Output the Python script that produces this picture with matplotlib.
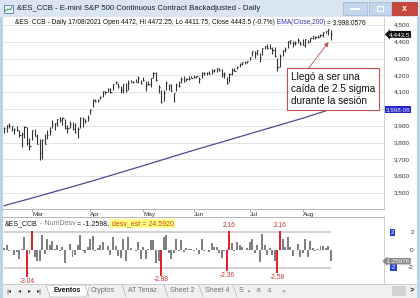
import numpy as np
import pandas as pd
import matplotlib
matplotlib.use('Agg')
import matplotlib.pyplot as plt
from matplotlib.patches import Rectangle, Polygon

plt.rcParams['font.family'] = ['Liberation Sans', 'DejaVu Sans']

# trading days shown (Feb 11 .. Aug 17 2021, market holidays removed)
holidays = ['2021-02-15', '2021-04-02', '2021-05-31', '2021-07-05']
dates = pd.bdate_range('2021-02-11', '2021-08-17').drop(pd.to_datetime(holidays))

# daily bars (backadjusted)
high = [3893, 3905, 3918, 3901, 3888, 3898, 3873, 3863, 3896, 3894, 3830,
        3876, 3878, 3854, 3824, 3823, 3853, 3875, 3890, 3932, 3916, 3942, 3953,
        3955, 3941, 3902, 3928, 3921, 3914, 3891, 3950, 3953, 3940, 3967,
        3997, 4059, 4062, 4059, 4075, 4105, 4107, 4124, 4127, 4150, 4168,
        4156, 4135, 4151, 4155, 4170, 4170, 4169, 4177, 4194, 4175,
        4191, 4168, 4168, 4183, 4219, 4217, 4143, 4115, 4112, 4164,
        4147, 4150, 4097, 4153, 4169, 4191, 4194, 4183, 4194, 4199,
        4203, 4199, 4188, 4220, 4218, 4222, 4223, 4235, 4235, 4241, 4244,
        4238, 4219, 4190, 4212, 4241, 4242, 4257, 4272, 4278, 4286, 4288,
        4312, 4346, 4347, 4352, 4331, 4363, 4377, 4384, 4384, 4367, 4367,
        4303, 4327, 4350, 4366, 4406, 4413, 4407, 4407, 4420, 4403,
        4417, 4419, 4413, 4425, 4435, 4434, 4440, 4444, 4456, 4463, 4475, 4472.25]
low = [3858, 3863, 3886, 3869, 3853, 3866, 3836, 3773, 3826, 3783, 3757,
       3814, 3839, 3790, 3695, 3702, 3790, 3824, 3848, 3888, 3875, 3896, 3925,
       3907, 3882, 3857, 3884, 3873, 3860, 3826, 3889, 3894, 3916, 3930,
       3968, 4010, 4044, 4040, 4058, 4071, 4090, 4100, 4096, 4115, 4147,
       4126, 4094, 4094, 4099, 4114, 4158, 4152, 4158, 4152, 4150,
       4168, 4109, 4141, 4129, 4182, 4169, 4093, 4037, 4049, 4111,
       4110, 4106, 4043, 4109, 4132, 4154, 4162, 4169, 4173, 4184,
       4184, 4184, 4154, 4184, 4202, 4201, 4205, 4206, 4219, 4220, 4224,
       4189, 4187, 4150, 4159, 4204, 4225, 4236, 4252, 4262, 4269, 4272,
       4291, 4317, 4306, 4321, 4280, 4321, 4356, 4355, 4354, 4324, 4312,
       4225, 4249, 4313, 4338, 4363, 4388, 4366, 4380, 4395, 4378,
       4379, 4368, 4393, 4397, 4418, 4417, 4422, 4431, 4430, 4449, 4442, 4411.75]
close = [3884, 3902, 3900, 3899, 3881, 3874, 3844, 3849, 3893, 3797, 3779,
         3873, 3842, 3791, 3740, 3813, 3793, 3847, 3870, 3911, 3915, 3940, 3934,
         3946, 3887, 3885, 3912, 3882, 3861, 3881, 3946, 3943, 3931, 3944,
         3995, 4053, 4049, 4055, 4073, 4104, 4103, 4117, 4100, 4146, 4161,
         4139, 4111, 4149, 4111, 4156, 4163, 4162, 4159, 4187, 4157,
         4173, 4145, 4148, 4182, 4214, 4170, 4133, 4044, 4094, 4155,
         4144, 4109, 4097, 4140, 4137, 4178, 4169, 4176, 4181, 4185,
         4188, 4194, 4178, 4216, 4212, 4213, 4206, 4225, 4233, 4241, 4232,
         4210, 4208, 4152, 4210, 4232, 4228, 4252, 4267, 4277, 4277, 4283,
         4311, 4343, 4335, 4349, 4311, 4361, 4376, 4360, 4365, 4351, 4318,
         4249, 4314, 4350, 4359, 4403, 4413, 4393, 4392, 4410, 4386,
         4382, 4418, 4397, 4424, 4432, 4427, 4431, 4442, 4455, 4463, 4474, 4443.5]

# EMA(Close,200) read at a few dates
ema_days = ['2021-02-11', '2021-03-01', '2021-04-01', '2021-05-03',
            '2021-06-01', '2021-07-01', '2021-08-02', '2021-08-17']
ema_vals = [3425, 3470, 3568, 3663, 3755, 3852, 3945, 3998.06]

# NumDesv histogram (daily move in standard deviations)
num_desv = [0.19, 0.58, -0.06, -0.03, -0.58, -0.23, -0.97, 0.16, 1.42, -3.04, -0.45,
            2.16, -0.74, -1.21, -1.21, 1.74, -0.48, 1.29, 0.55, 0.98, 0.10, 0.60, -0.14,
            0.29, -1.45, -0.05, 0.68, -0.76, -0.54, 0.52, 1.68, -0.08, -0.32, 0.37,
            1.27, 1.61, -0.11, 0.17, 0.52, 0.91, -0.03, 0.42, -0.52, 1.42, 0.48,
            -0.71, -0.93, 1.27, -1.27, 1.50, 0.24, -0.03, -0.10, 0.95, -1.02,
            0.38, -0.97, 0.10, 1.17, 1.07, -1.50, -1.23, -2.88, 1.43, 1.69,
            -0.30, -0.97, -0.33, 1.19, -0.08, 1.14, -0.25, 0.22, 0.14, 0.08,
            -0.06, 0.18, -0.50, 1.19, -0.13, 0.03, -0.25, 0.74, 0.30, 0.31, -0.35,
            -0.88, -0.08, -2.36, 2.16, 0.81, -0.15, 0.89, 0.52, 0.37, 0.01, 0.22,
            0.85, 1.19, -0.30, 0.52, -1.37, 1.78, 0.56, -0.56, 0.19, -0.52, -1.22,
            -2.58, 2.16, 1.20, 0.30, 1.50, 0.33, -0.67, -0.03, 0.62, -0.83,
            -0.29, 1.29, -0.75, 0.99, 0.26, -0.15, 0.15, 0.42, 0.50, 0.28, 0.44, -1.26]

price_ticks = [3500, 3600, 3700, 3800, 3900, 4000, 4100, 4200, 4300, 4400, 4500]
hist_ticks = [2, 0, -2]
month_names = ['Mar', 'Apr', 'May', 'Jun', 'Jul', 'Aug']
tabs = ['Cryptos', 'AT Tenaz', 'Sheet 2', 'Sheet 4', 'S']
tab_x = [91, 128, 170, 205, 239]

W, H = 420, 298
x = np.arange(len(dates))


def rect(x0, y0, x1, y1):
    return [x0 / W, 1 - y1 / H, (x1 - x0) / W, (y1 - y0) / H]


fig = plt.figure(figsize=(W / 100, H / 100), dpi=100)

# window chrome, drawn in pixel coords
bg = fig.add_axes([0, 0, 1, 1], zorder=0)
bg.set_xlim(0, W)
bg.set_ylim(H, 0)
bg.axis('off')
bg.add_patch(Rectangle((0, 0), W, H, fc='#bcd1ea', ec='none'))
bg.add_patch(Rectangle((0, 0), W, 17, fc='#d9e5f3', ec='none'))
bg.add_patch(Rectangle((3, 17), 414, 268, fc='white', ec='none'))
bg.add_patch(Rectangle((3, 284), 414, 14, fc='#efefef', ec='none'))
bg.plot([3, 417], [284, 284], color='#c8c8c8', lw=0.6)
bg.add_patch(Rectangle((4, 5), 9, 8, fc='#eef4fa', ec='#4f7fb0', lw=0.6))
bg.plot([5, 8, 10, 12], [11, 9, 10, 7], color='#3a9a3a', lw=0.7)
bg.add_patch(Rectangle((343, 2), 24, 13, fc='#c3d5ea', ec='#9db4d0', lw=0.5))
bg.plot([351, 359], [9, 9], color='white', lw=1.3)
bg.add_patch(Rectangle((369, 2), 22, 13, fc='#c3d5ea', ec='#9db4d0', lw=0.5))
bg.add_patch(Rectangle((377, 6), 6, 5, fc='none', ec='white', lw=0.8))
bg.add_patch(Rectangle((392, 2), 25, 13, fc='#c9463d', ec='#a83228', lw=0.5))
bg.text(404.5, 8.5, 'x', color='white', fontsize=6.5, fontweight='bold', ha='center', va='center')
bg.text(17, 9, '&ES_CCB - E-mini S&P 500 Continuous Contract Backadjusted - Daily',
        fontsize=5.6, color='#1e1e1e', va='center')

renderer = fig.canvas.get_renderer()


def seq_text(x0, y0, parts, size):
    for s, c, box in parts:
        t = bg.text(x0, y0, s, color=c, fontsize=size, va='center', ha='left', bbox=box, zorder=5)
        x0 += t.get_window_extent(renderer=renderer).width
        if box is not None:
            x0 += 3
    return x0


seq_text(15, 23, [('&ES_CCB - Daily 17/08/2021 Open 4472, Hi 4472.25, Lo 4411.75, Close 4443.5 (-0.7%)', '#111111', None),
                  (' EMA(Close,200)', '#3535a8', None),
                  (' = 3,998.0576', '#111111', None)], 4.8)
header_end = seq_text(5, 223.5, [('&ES_CCB', '#111111', None),
                                 (' - NumDesv', '#7a7a7a', None),
                                 (' = -1.2598, ', '#111111', None),
                                 ('desv_est = 24.5920', '#c84a00', dict(fc='#ffff88', ec='none', pad=1.0))], 5.0)

# tab bar
bg.add_patch(Polygon([[46, 285], [50, 297], [86, 297], [90, 285]], closed=True, fc='white', ec='#b0b0b0', lw=0.5))
bg.text(53, 291, 'Eventos', fontsize=5, fontweight='bold', color='#111111', va='center')
for t, tx in zip(tabs, tab_x):
    bg.text(tx, 291, t, fontsize=5, color='#707070', va='center')
    bg.plot([tx - 6, tx - 2], [285, 297], color='#b0b0b0', lw=0.5)
for s, tx in zip(['|\u25c2', '\u25c2', '\u25b8', '\u25b8|'], [6, 18, 28, 37]):
    bg.text(tx, 291, s, fontsize=4.2, color='#333333', va='center', family='DejaVu Sans')
for s, tx in zip(['\u2022', '-5', '-1', '<'], [248, 256, 267, 282]):
    bg.text(tx, 291, s, fontsize=4.6, color='#555555', va='center')
bg.add_patch(Rectangle((392, 286), 14, 10, fc='#d2d2d2', ec='none'))
bg.text(410, 291, '>', fontsize=5.5, fontweight='bold', color='#222222', va='center')

# price panel
ax = fig.add_axes(rect(3, 17, 384, 209), zorder=1)
ax.set_facecolor('none')
ax.vlines(x, low, high, color='#333333', lw=0.8)
ax.hlines(close, x, x + 0.45, color='#333333', lw=0.8)
ax.plot(dates.get_indexer(pd.to_datetime(ema_days)), ema_vals, color='#4a4a96', lw=0.9)
ax.set_xlim(-0.47, 150.1)
ax.set_ylim(3405, 4547)
ax.set_yticks(price_ticks)
ax.yaxis.set_ticklabels([])
ax.grid(axis='y', color='#e4e4e4', lw=0.7)
ax.tick_params(axis='y', length=0)
month_pos = [int(np.argmax(dates.month == m)) for m in range(3, 9)]
ax.set_xticks(month_pos)
ax.set_xticklabels(month_names)
for lab in ax.get_xticklabels():
    lab.set_horizontalalignment('left')
ax.tick_params(axis='x', length=2, width=0.5, color='#909090', labelsize=4.6, pad=0.2, labelcolor='#333333')
for s in ['top', 'left']:
    ax.spines[s].set_visible(False)
ax.spines['bottom'].set_color('#a8a8a8')
ax.spines['right'].set_color('#c8c8c8')
for s in ['bottom', 'right']:
    ax.spines[s].set_linewidth(0.6)

ytr = ax.get_yaxis_transform()
for v in price_ticks:
    if abs(v - ema_vals[-1]) < 30:
        continue  # hidden behind the EMA value box
    ax.text(1.068, v, f'{v:,}', transform=ytr, ha='right', va='center', fontsize=4.6, color='#333333', clip_on=False)
ax.text(1.012, close[-1], f'{close[-1]:,.1f}', transform=ytr, ha='left', va='center', fontsize=4.6,
        color='white', clip_on=False, zorder=6,
        bbox=dict(boxstyle='larrow,pad=0.15', fc='#111111', ec='none'))
ax.text(1.004, ema_vals[-1], f'{ema_vals[-1]:,.2f}', transform=ytr, ha='left', va='center', fontsize=4.6,
        color='#e8e8ff', clip_on=False, zorder=6,
        bbox=dict(boxstyle='square,pad=0.15', fc='#2626c8', ec='none'))

ax.annotate('Llegó a ser una\ncaída de 2.5 sigma\ndurante la sesión',
            xy=(x[-1] - 0.8, low[-1] - 14), xycoords='data',
            xytext=(291, 209), textcoords='figure pixels', ha='left', va='center',
            multialignment='left', fontsize=7.2, color='#111111', linespacing=1.2,
            bbox=dict(boxstyle='square,pad=0.4', fc='white', ec='#c0504d', lw=0.8),
            arrowprops=dict(arrowstyle='-|>,head_length=0.35,head_width=0.18', color='#c0504d',
                            lw=0.6, relpos=(0.17, 1.0), shrinkA=0, shrinkB=0),
            zorder=7)

# NumDesv panel
ax2 = fig.add_axes(rect(3, 217, 384, 284), zorder=1)
ax2.set_facecolor('none')
vals = np.array(num_desv)
red = np.abs(vals) > 2
ax2.bar(x, vals, width=0.78, color=np.where(red, '#e3232b', '#808080'), zorder=3)
ax2.hlines([2, -2], x[0], x[-1], color='#cfcfcf', lw=1.3, zorder=1)
ax2.set_xlim(ax.get_xlim())
ax2.set_ylim(-3.82, 3.71)
# labels of positive spikes under the header line are covered by it
header_idx = ax2.transData.inverted().transform((header_end, 0))[0]
for xi, v in zip(x[red], vals[red]):
    if v > 0 and xi < header_idx:
        continue
    ax2.annotate(f'{v:.2f}', (xi, v), xytext=(0, 1 if v > 0 else -0.5), textcoords='offset points',
                 ha='center', va='bottom' if v > 0 else 'top', fontsize=4.8, color='#c83232')
ax2.set_xticks([])
ax2.set_yticks([])
for s in ['bottom', 'left']:
    ax2.spines[s].set_visible(False)
ax2.spines['top'].set_color('#a8a8a8')
ax2.spines['right'].set_color('#c8c8c8')
for s in ['top', 'right']:
    ax2.spines[s].set_linewidth(0.6)

ytr2 = ax2.get_yaxis_transform()
for v in hist_ticks:
    ax2.text(1.078, v, f'{v}', transform=ytr2, ha='right', va='center', fontsize=4.6, color='#333333', clip_on=False)
for v in [2, -2]:
    ax2.text(1.018, v, f'{v}', transform=ytr2, ha='left', va='center', fontsize=4.4, color='white',
             clip_on=False, bbox=dict(boxstyle='square,pad=0.15', fc='#1f3fd6', ec='none'))
ax2.text(1.005, vals[-1], '-1.25976', transform=ytr2, ha='left', va='center', fontsize=4.4, color='white',
         clip_on=False, zorder=6, bbox=dict(boxstyle='larrow,pad=0.12', fc='#8a8a8a', ec='none'))

fig.savefig('out.png', dpi=100)
